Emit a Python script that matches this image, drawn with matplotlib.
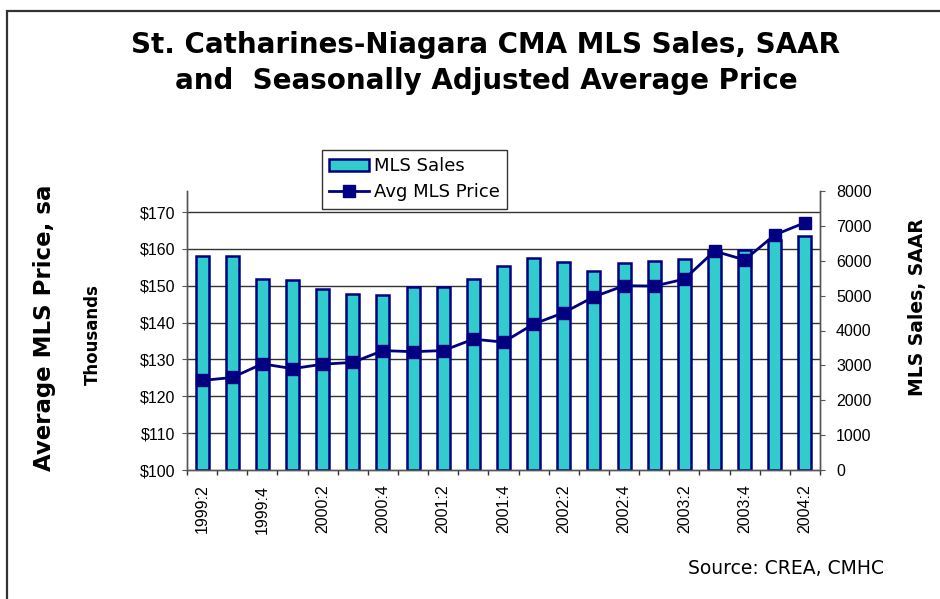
import numpy as np
import matplotlib
matplotlib.use("Agg")
import matplotlib.pyplot as plt
import matplotlib.transforms as mtransforms
from matplotlib.patches import Rectangle, Patch
from matplotlib.lines import Line2D

# --- data ---
quarters = ["1999:2", "1999:3", "1999:4", "2000:1", "2000:2", "2000:3", "2000:4",
            "2001:1", "2001:2", "2001:3", "2001:4", "2002:1", "2002:2", "2002:3",
            "2002:4", "2003:1", "2003:2", "2003:3", "2003:4", "2004:1", "2004:2"]
mls_sales = [6130, 6140, 5470, 5450, 5190, 5050, 5020, 5240, 5240, 5470, 5840,
             6070, 5955, 5710, 5925, 6000, 6050, 6300, 6310, 6600, 6710]
avg_price = [124.3, 125.1, 128.8, 127.5, 128.7, 129.2, 132.4, 132.1, 132.4, 135.5,
             134.7, 139.6, 142.7, 147.0, 150.0, 149.9, 151.8, 159.4, 157.0, 163.8, 167.1]
price_ticks = [100, 110, 120, 130, 140, 150, 160, 170]
sales_ticks = [0, 1000, 2000, 3000, 4000, 5000, 6000, 7000, 8000]

navy = "#000080"
teal = "#33CCCC"
title_font = "DejaVu Sans"
tick_font = "Liberation Sans"

fig = plt.figure(figsize=(9.4, 5.99), dpi=100)
ax = fig.add_axes([187 / 940, 1 - 470 / 599, 633 / 940, 279 / 599])
ax2 = ax.twinx()

x = np.arange(len(quarters))

# bars on the right-hand (sales) axis
ax.bar(x, mls_sales, width=0.43, color=teal, edgecolor=navy, linewidth=1.8, zorder=2)
ax.set_ylim(0, 8000)
ax.set_xlim(-0.5, len(quarters) - 0.5)
ax.yaxis.tick_right()
ax.set_yticks(sales_ticks)
ax.set_yticklabels([str(v) for v in sales_ticks], fontsize=11.5, family=tick_font)

# price line on the left-hand axis
ax2.plot(x, avg_price, color=navy, linewidth=2, marker="s", markersize=8, zorder=3)
ax2.set_ylim(100, 175.7)
ax2.yaxis.tick_left()
ax2.set_yticks(price_ticks)
ax2.set_yticklabels([f"${v}" for v in price_ticks], fontsize=11.5, family=tick_font)

# gridlines follow the price axis but sit behind the bars
trans = mtransforms.blended_transform_factory(ax.transAxes, ax2.transData)
for v in price_ticks[1:]:
    ax.plot([0, 1], [v, v], transform=trans, color="#333333", linewidth=1.0, zorder=1)

# x ticks: marks between categories, labels every second quarter
ax.set_xticks(x[::2])
ax.set_xticklabels(quarters[::2], rotation=90, fontsize=11.5, family=tick_font)
ax.set_xticks(np.arange(len(quarters) + 1) - 0.5, minor=True)
ax.tick_params(axis="x", which="major", length=0, pad=10.5)
ax.tick_params(axis="x", which="minor", length=3.6, width=1, color="#333333")

for a in (ax, ax2):
    a.spines["top"].set_visible(False)
    for s in ("left", "right", "bottom"):
        a.spines[s].set_color("#555555")
        a.spines[s].set_linewidth(1.0)
ax.tick_params(axis="y", length=3.6, color="#555555", pad=8)
ax2.tick_params(axis="y", length=3.6, color="#555555", pad=5)
ax.patch.set_visible(False)

# labels and title
fig.text(0.517, 1 - 45 / 599, "St. Catharines-Niagara CMA MLS Sales, SAAR",
         ha="center", va="center", fontsize=20, fontweight="bold", family=title_font)
fig.text(0.517, 1 - 81 / 599, "and  Seasonally Adjusted Average Price",
         ha="center", va="center", fontsize=20, fontweight="bold", family=title_font)
fig.text(45 / 940, 1 - 328 / 599, "Average MLS Price, sa", rotation=90,
         ha="center", va="center", fontsize=16.5, fontweight="bold", family=title_font)
fig.text(93 / 940, 1 - 335 / 599, "Thousands", rotation=90,
         ha="center", va="center", fontsize=12, fontweight="bold", family=title_font)
fig.text(918 / 940, 1 - 307 / 599, "MLS Sales, SAAR", rotation=90,
         ha="center", va="center", fontsize=13.5, fontweight="bold", family=title_font)
fig.text(884 / 940, 1 - 568 / 599, "Source: CREA, CMHC",
         ha="right", va="center", fontsize=13.5, family=title_font)

# legend
handles = [Patch(facecolor=teal, edgecolor=navy, linewidth=1.8, label="MLS Sales"),
           Line2D([], [], color=navy, linewidth=2, marker="s", markersize=8,
                  label="Avg MLS Price")]
leg = fig.legend(handles=handles, loc="upper left",
                 bbox_to_anchor=(322 / 940, 1 - 150 / 599), borderaxespad=0,
                 prop={"family": title_font, "size": 13}, frameon=True,
                 fancybox=False, borderpad=0.4, handlelength=2.2,
                 handletextpad=0.3, labelspacing=0.45)
leg.get_frame().set_edgecolor("black")
leg.get_frame().set_linewidth(1.0)

# outer frame of the chart
fig.patches.append(Rectangle((7 / 940, -0.1), 1.0, 1.1 - 11 / 599,
                             transform=fig.transFigure, fill=False,
                             edgecolor="#333333", linewidth=1.6))

fig.savefig("out.png", dpi=100)
